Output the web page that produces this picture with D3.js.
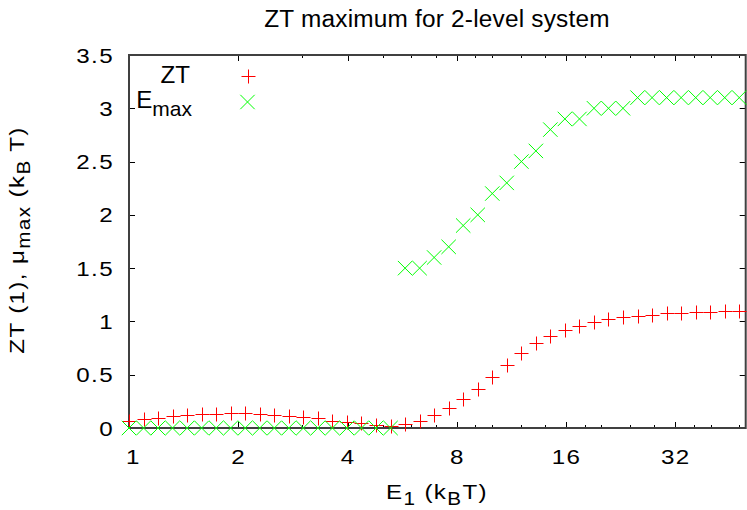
<!DOCTYPE html>
<html lang="en">
<head>
<meta charset="utf-8">
<title>ZT maximum for 2-level system</title>
<script src="https://d3js.org/d3.v7.min.js"></script>
<style>
  body { margin: 0; background: #fff; }
  text { font-family: "Liberation Sans", Arial, Helvetica, sans-serif; fill: #000; }
</style>
</head>
<body>
<div id="chart"></div>
<script>
// level energy E1 (kBT), log-spaced
var energies = [1.000, 1.097, 1.202, 1.318, 1.446, 1.585, 1.739, 1.906, 2.090, 2.292,
  2.514, 2.756, 3.022, 3.314, 3.634, 3.985, 4.370, 4.792, 5.255, 5.762,
  6.318, 6.928, 7.597, 8.331, 9.135, 10.02, 10.98, 12.05, 13.21, 14.48,
  15.88, 17.42, 19.10, 20.94, 22.96, 25.18, 27.61, 30.28, 33.20, 36.41,
  39.92, 43.77, 48.00];
var ztValues = [0.068, 0.080, 0.097, 0.110, 0.120, 0.128, 0.130, 0.137, 0.137, 0.130,
  0.120, 0.110, 0.106, 0.090, 0.068, 0.060, 0.044, 0.028, 0.022, 0.036,
  0.068, 0.119, 0.190, 0.270, 0.370, 0.480, 0.590, 0.700, 0.795, 0.866,
  0.920, 0.960, 0.995, 1.020, 1.039, 1.054, 1.063, 1.076, 1.082, 1.086,
  1.088, 1.095, 1.095];
var emaxValues = [0, 0, 0, 0, 0, 0, 0, 0, 0, 0,
  0, 0, 0, 0, 0, 0, 0, 0, 0, 1.5,
  1.5, 1.6, 1.7, 1.9, 2.0, 2.2, 2.3, 2.5, 2.6, 2.8,
  2.9, 2.9, 3.0, 3.0, 3.0, 3.1, 3.1, 3.1, 3.1, 3.1,
  3.1, 3.1, 3.1];
var xMajorTicks = [1, 2, 4, 8, 16, 32];
var xMinorTicks = [3, 5, 6, 7, 9, 10, 12, 14, 18, 20, 24, 28, 36, 40, 48];
var yTicks = [0, 0.5, 1, 1.5, 2, 2.5, 3, 3.5];

var width = 747, height = 510;
var pLeft = 129, pRight = 745.7, pTop = 55, pBottom = 428;
var stretch = 1.15;   // gnuplot's font runs wider than Liberation Sans

var svg = d3.select('#chart').append('svg')
  .attr('width', width)
  .attr('height', height);

var x = d3.scaleLog().base(2).domain([1, 50]).range([pLeft, pRight]);
var y = d3.scaleLinear().domain([0, 3.5]).range([pBottom, pTop]);

// text placed at (tx,ty), stretched sideways
function label(tx, ty, anchor, size, sx, rot, spacing) {
  var g = svg.append('g')
    .attr('transform', 'translate(' + tx + ',' + ty + ')' + (rot ? ' rotate(' + rot + ')' : '') + ' scale(' + sx + ',1)');
  return g.append('text')
    .attr('text-anchor', anchor)
    .style('letter-spacing', (spacing || 0) + 'px')
    .style('font-size', size + 'px');
}

// ticks (all four sides, pointing in)
var ticks = svg.append('g').attr('stroke', '#000').attr('stroke-width', 1);
xMajorTicks.concat(xMinorTicks).forEach(function(t) {
  var len = xMajorTicks.indexOf(t) >= 0 ? 6 : 3;
  var px = Math.round(x(t)) + 0.5;
  ticks.append('line').attr('x1', px).attr('x2', px).attr('y1', pBottom).attr('y2', pBottom - len);
  ticks.append('line').attr('x1', px).attr('x2', px).attr('y1', pTop).attr('y2', pTop + len);
});
yTicks.forEach(function(t) {
  var py = Math.round(y(t)) + 0.5;
  ticks.append('line').attr('x1', pLeft).attr('x2', pLeft + 6).attr('y1', py).attr('y2', py);
  ticks.append('line').attr('x1', pRight).attr('x2', pRight - 6).attr('y1', py).attr('y2', py);
});

// frame
svg.append('rect')
  .attr('x', pLeft).attr('y', pTop)
  .attr('width', pRight - pLeft).attr('height', pBottom - pTop)
  .attr('fill', 'none')
  .attr('stroke', '#404040')
  .attr('stroke-width', 2);

// tick labels
xMajorTicks.forEach(function(d) {
  label(x(d) + (d === 1 ? 4 : 0) + 0.5, 464, 'middle', 21, stretch, 0, 1.2).text(d);
});
yTicks.forEach(function(d) {
  label(114, y(d) + 7.5, 'end', 21, stretch, 0, 1.2).text(d);
});

// title
label(437, 27, 'middle', 23, 1.06, 0, 0.2).text('ZT maximum for 2-level system');

// x label
var xl = label(437, 499, 'middle', 21, stretch, 0, 1.2);
xl.append('tspan').text('E');
xl.append('tspan').attr('dy', 6).style('font-size', '18px').text('1');
xl.append('tspan').attr('dy', -6).text(' (k');
xl.append('tspan').attr('dy', 6).style('font-size', '18px').text('B');
xl.append('tspan').attr('dy', -6).text('T)');

// y label
var yl = label(24, 240, 'middle', 21, stretch, -90, 1.2);
yl.append('tspan').text('ZT (1), \u03bc');
yl.append('tspan').attr('dy', 6).style('font-size', '18px').text('max');
yl.append('tspan').attr('dy', -6).text(' (k');
yl.append('tspan').attr('dy', 6).style('font-size', '18px').text('B');
yl.append('tspan').attr('dy', -6).text(' T)');

// markers, snapped to the pixel grid like gnuplot's bitmap output
function snap(v) { return Math.round(v) + 0.5; }
function plusPath(cx, cy, r) {
  cx = snap(cx); cy = snap(cy);
  return 'M' + (cx - r) + ',' + cy + 'H' + (cx + r) + 'M' + cx + ',' + (cy - r) + 'V' + (cy + r);
}
function crossPath(cx, cy, r) {
  return 'M' + (cx - r) + ',' + (cy - r) + 'L' + (cx + r) + ',' + (cy + r) +
    'M' + (cx - r) + ',' + (cy + r) + 'L' + (cx + r) + ',' + (cy - r);
}

var zt = energies.map(function(e, i) { return { e: e, v: ztValues[i] }; });
var em = energies.map(function(e, i) { return { e: e, v: emaxValues[i] }; });

svg.append('g').selectAll('path')
  .data(zt).enter().append('path')
  .attr('d', function(d) { return plusPath(x(d.e), y(d.v), 7); })
  .attr('stroke', '#ff0000')
  .attr('stroke-width', 1)
  .attr('fill', 'none');

svg.append('g').selectAll('path')
  .data(em).enter().append('path')
  .attr('d', function(d) { return crossPath(x(d.e), y(d.v), 7.2); })
  .attr('stroke', '#00ff00')
  .attr('stroke-width', 1)
  .attr('fill', 'none');

// legend
label(190, 83, 'end', 23, 1.05).text('ZT');
var lg = label(192, 108, 'end', 23, 1.05);
lg.append('tspan').text('E');
lg.append('tspan').attr('dy', 8).style('font-size', '20px').text('max');

svg.append('path')
  .attr('d', plusPath(247.5, 75.5, 7))
  .attr('stroke', '#ff0000').attr('stroke-width', 1).attr('fill', 'none');
svg.append('path')
  .attr('d', crossPath(247.5, 102, 7.2))
  .attr('stroke', '#00ff00').attr('fill', 'none');
</script>
</body>
</html>
